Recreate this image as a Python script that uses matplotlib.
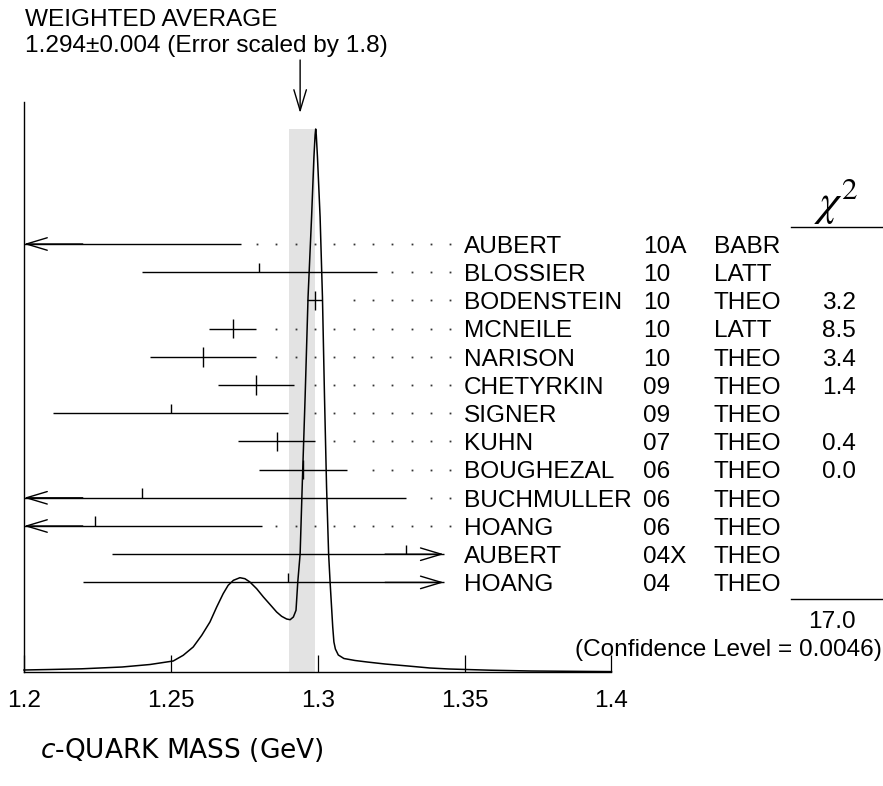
import matplotlib
matplotlib.use("Agg")
import matplotlib.pyplot as plt
import matplotlib.transforms as mtransforms
import numpy as np

# measurements, top to bottom
names = ["AUBERT", "BLOSSIER", "BODENSTEIN", "MCNEILE", "NARISON", "CHETYRKIN",
         "SIGNER", "KUHN", "BOUGHEZAL", "BUCHMULLER", "HOANG", "AUBERT", "HOANG"]
years = ["10A", "10", "10", "10", "10", "09", "09", "07", "06", "06", "06", "04X", "04"]
techs = ["BABR", "LATT", "THEO", "LATT", "THEO", "THEO", "THEO", "THEO", "THEO",
         "THEO", "THEO", "THEO", "THEO"]
values = [1.192, 1.280, 1.299, 1.271, 1.261, 1.279, 1.250, 1.286, 1.295, 1.240, 1.224, 1.330, 1.290]
errors = [0.082, 0.040, 0.0025, 0.008, 0.018, 0.013, 0.040, 0.013, 0.015, 0.090, 0.057, 0.100, 0.070]
chi2 = ["", "", "3.2", "8.5", "3.4", "1.4", "", "0.4", "0.0", "", "", "", ""]

avg_value = 1.294
band_lo, band_hi = 1.2903, 1.2991
chi2_total = "17.0"
conf_level = "0.0046"
title1 = "WEIGHTED AVERAGE"
title2 = "1.294\u00b10.004 (Error scaled by 1.8)"

# ideogram curve (GeV, arbitrary height)
ideo_x = [1.2000, 1.2089, 1.2197, 1.2334, 1.2429, 1.2508, 1.2542, 1.2576, 1.2605, 1.2633,
          1.2656, 1.2678, 1.2695, 1.2713, 1.2735, 1.2752, 1.2769, 1.2792, 1.2815, 1.2837,
          1.2860, 1.2877, 1.2894, 1.2906, 1.2917, 1.2926, 1.2932, 1.2940, 1.2947, 1.2957,
          1.2967, 1.2979, 1.2987, 1.2991, 1.2993, 1.2995, 1.2999, 1.3008, 1.3016, 1.3023,
          1.3030, 1.3037, 1.3042, 1.3047, 1.3051, 1.3055, 1.3060, 1.3070, 1.3089, 1.3127,
          1.3168, 1.3229, 1.3307, 1.3382, 1.3447, 1.3586, 1.3726, 1.4000]
ideo_y = [2, 2.5, 3.2, 5, 7.5, 11, 16.7, 25, 36.7, 50,
          65, 78.3, 86.7, 91.7, 94.3, 93.3, 90, 83.3, 75, 67.7,
          60, 55.7, 53, 52.3, 55, 61.7, 90, 118, 185, 275,
          375, 455, 515, 537, 543, 537, 515, 455, 375, 275,
          185, 118, 90, 65, 45, 30, 23, 17, 13.5, 11.5,
          10, 8, 6, 4, 3, 1.8, 1, 0.4]

W, H = 883, 786
FS = 17.6
plt.rcParams['font.family'] = ['Liberation Sans', 'DejaVu Sans']

fig = plt.figure(figsize=(W / 100, H / 100), dpi=100)

base_px, top_px = 672, 101.7
left_px, right_px = 24, 611.5
row0_px, row_step = 244, 28.2


def row_of(py):
    return (py - row0_px) / row_step


ax = fig.add_axes([left_px / W, 1 - base_px / H, (right_px - left_px) / W, (base_px - top_px) / H])
ax.set_xlim(1.2, 1.4)
ax.set_ylim(row_of(base_px), row_of(top_px))
for s in ["top", "right"]:
    ax.spines[s].set_visible(False)
for s in ["left", "bottom"]:
    ax.spines[s].set_linewidth(1.0)
ax.set_yticks([])
ax.set_xticks([1.2, 1.25, 1.3, 1.35, 1.4])
ax.set_xticklabels(["1.2", "1.25", "1.3", "1.35", "1.4"])
ax.tick_params(axis="x", direction="in", length=12, width=0.9, pad=13, labelsize=FS)

# weighted average band
ax.axvspan(band_lo, band_hi, ymin=0, ymax=(base_px - 129.3) / (base_px - top_px),
           color="#e3e3e3", lw=0, zorder=0)

# error bars
right_end = 1.3429
arrow = dict(arrowstyle="->,head_length=1.5,head_width=0.45", lw=1.0, color="black",
             shrinkA=0, shrinkB=0, mutation_scale=10)
dot_cols = 1.3451 - 0.00658 * np.arange(0, 25)
for r, (v, e) in enumerate(zip(values, errors)):
    lo, hi = v - e, v + e
    lo_c, hi_c = max(lo, 1.2), min(hi, right_end)
    ax.hlines(r, lo_c, hi_c, color="black", lw=1.0, zorder=3)
    if lo < 1.2:
        ax.annotate("", xy=(1.2, r), xytext=(1.22, r), arrowprops=arrow, annotation_clip=False)
    if hi > right_end:
        ax.annotate("", xy=(right_end, r), xytext=(right_end - 0.02, r), arrowprops=arrow,
                    annotation_clip=False)
    if 1.2 <= v <= 1.4:
        if chi2[r]:
            ax.vlines(v, r - 0.35, r + 0.35, color="black", lw=1.0, zorder=3)
        else:
            ax.vlines(v, r - 0.34, r, color="black", lw=1.0, zorder=3)
    dots = dot_cols[dot_cols > hi_c + 0.0045]
    ax.plot(dots, [r] * len(dots), ls="none", marker="s", ms=1.3, color="#333333",
            mec="none", zorder=2)

# ideogram
ax2 = ax.twinx()
ax2.set_ylim(0, base_px - top_px)
ax2.axis("off")
ax2.plot(ideo_x, ideo_y, color="black", lw=1.1, clip_on=False)

# arrow marking the average
ax.annotate("", xy=(avg_value, row_of(113)), xytext=(avg_value, row_of(60)),
            arrowprops=arrow, annotation_clip=False)

# text columns
trans = mtransforms.blended_transform_factory(fig.transFigure, ax.transData)
for r in range(len(names)):
    yb = r + 0.31
    ax.text(464 / W, yb, names[r], transform=trans, fontsize=FS, va="baseline")
    ax.text(643 / W, yb, years[r], transform=trans, fontsize=FS, va="baseline")
    ax.text(714 / W, yb, techs[r], transform=trans, fontsize=FS, va="baseline")
    if chi2[r]:
        ax.text(856 / W, yb, chi2[r], transform=trans, fontsize=FS, va="baseline", ha="right")

ax.text(836 / W, row_of(215), r"$\chi^2$", transform=trans, fontsize=32, ha="center",
        va="baseline", math_fontfamily="stix")
ax.plot([790.7 / W, 881.7 / W], [row_of(226.7)] * 2, transform=trans, color="black",
        lw=1.0, clip_on=False)
ax.plot([790.7 / W, 881.7 / W], [row_of(599)] * 2, transform=trans, color="black",
        lw=1.0, clip_on=False)
ax.text(856 / W, row_of(619) + 0.31, chi2_total, transform=trans, fontsize=FS,
        va="baseline", ha="right")
ax.text(881.7 / W, row_of(647) + 0.31, "(Confidence Level = %s)" % conf_level,
        transform=trans, fontsize=FS, va="baseline", ha="right")

fig.text(25 / W, 1 - 25.5 / H, title1, fontsize=FS, va="baseline")
fig.text(25 / W, 1 - 52 / H, title2, fontsize=FS, va="baseline")

fig.text(40 / W, 1 - 750 / H, r"$c$-QUARK MASS (GeV)", family="DejaVu Sans", fontsize=19,
         va="center", math_fontfamily="dejavusans")

fig.savefig("out.png", dpi=100)
